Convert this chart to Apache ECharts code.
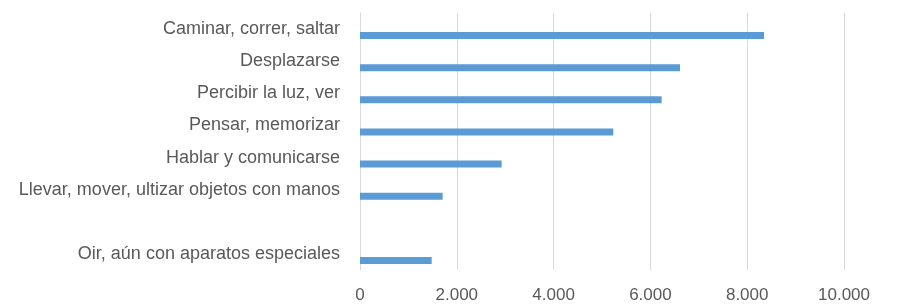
<!DOCTYPE html>
<html><head><meta charset="utf-8">
<script src="https://cdn.jsdelivr.net/npm/echarts@6/dist/echarts.min.js"></script>
<style>html,body{margin:0;padding:0;background:#fff}#c{width:904px;height:304px}</style>
</head><body><div id="c"></div>
<script>
const categories = ["Caminar, correr, saltar", "Desplazarse", "Percibir la luz, ver", "Pensar, memorizar", "Hablar y comunicarse", "Llevar, mover, ultizar objetos con manos", "", "Oir, aún con aparatos especiales"];
const values = [8347, 6612, 6233, 5234, 2927, 1708, null, 1481];
const emptySeries = [null, null, null, null, null, null, null, null];
const xMin = 0, xMax = 10000, xStep = 2000;

const chart = echarts.init(document.getElementById('c'), null, {renderer: 'canvas'});
const font = '"Liberation Sans", Arial, sans-serif';
chart.setOption({
  animation: false,
  grid: {left: 360, right: 60, top: 13, bottom: 32, containLabel: false},
  xAxis: {
    type: 'value', min: xMin, max: xMax, interval: xStep,
    axisLine: {show: false}, axisTick: {show: false},
    splitLine: {show: true, lineStyle: {color: '#d9d9d9', width: 1}},
    axisLabel: {color: '#595959', fontSize: 17, fontFamily: font, margin: 17,
      formatter: v => String(v).replace(/\B(?=(\d{3})+(?!\d))/g, '.')}
  },
  yAxis: {
    type: 'category', data: categories, inverse: true,
    axisLine: {show: true, lineStyle: {color: '#d9d9d9', width: 1}},
    axisTick: {show: false},
    axisLabel: {color: '#595959', fontSize: 18, fontFamily: font, margin: 20}
  },
  series: [
    {type: 'bar', data: emptySeries, barWidth: 7, barGap: '86%', itemStyle: {color: '#5b9bd5'}},
    {type: 'bar', data: values, barWidth: 7, barGap: '86%', itemStyle: {color: '#5b9bd5'}}
  ]
});
</script></body></html>
